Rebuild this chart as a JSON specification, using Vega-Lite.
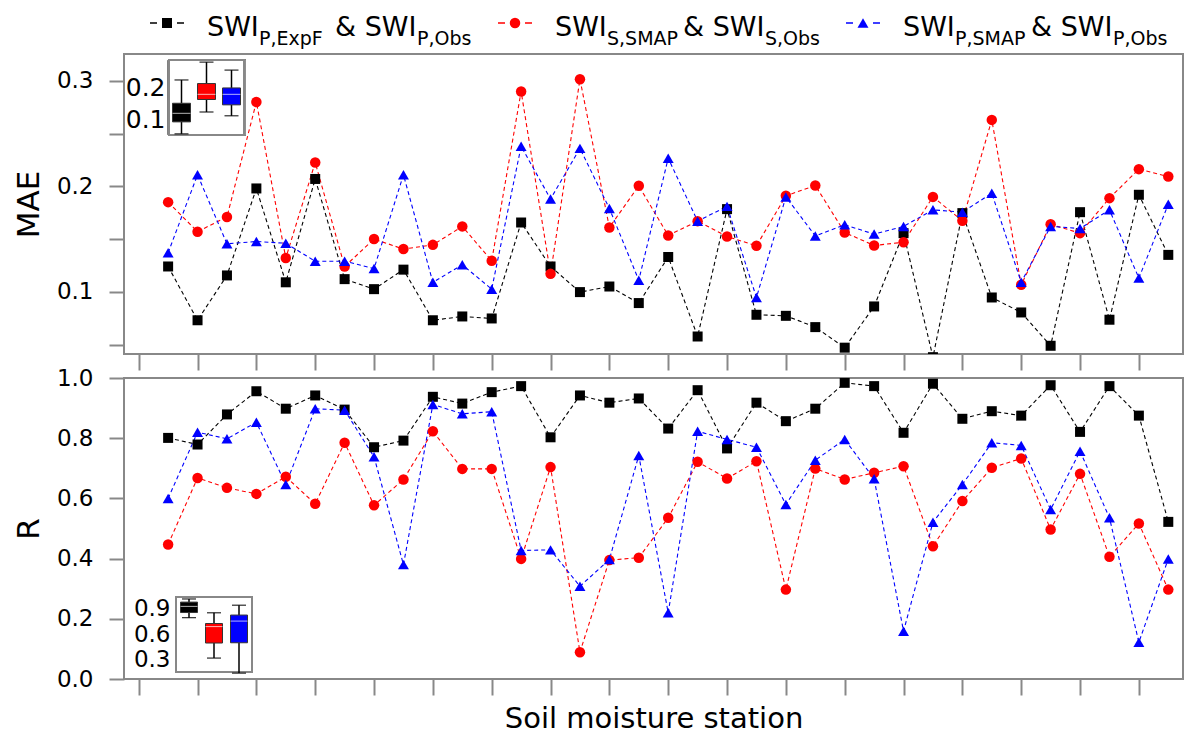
{
  "$schema": "https://vega.github.io/schema/vega-lite/v6.json",
  "padding": {"left": 12, "top": 0, "right": 5, "bottom": 5},
  "config": {
    "font": "DejaVu Sans",
    "view": {"stroke": "#888888", "strokeWidth": 2},
    "axis": {
      "labelFont": "DejaVu Sans",
      "titleFont": "DejaVu Sans",
      "labelColor": "#000000",
      "titleColor": "#000000",
      "titleFontWeight": "normal",
      "tickColor": "#888888",
      "tickWidth": 2,
      "domain": false,
      "grid": false
    }
  },
  "datasets": {
    "entries": [
      {"key": "expf", "main1": "SWI", "sub1": "P,ExpF", "main2": "& SWI", "sub2": "P,Obs"},
      {"key": "ssmap", "main1": "SWI", "sub1": "S,SMAP", "main2": "& SWI", "sub2": "S,Obs"},
      {"key": "psmap", "main1": "SWI", "sub1": "P,SMAP", "main2": "& SWI", "sub2": "P,Obs"}
    ],
    "mae": [
      {"station": 1, "expf": 0.124, "ssmap": 0.185, "psmap": 0.137},
      {"station": 2, "expf": 0.073, "ssmap": 0.157, "psmap": 0.211},
      {"station": 3, "expf": 0.1155, "ssmap": 0.171, "psmap": 0.1455},
      {"station": 4, "expf": 0.198, "ssmap": 0.280, "psmap": 0.1477},
      {"station": 5, "expf": 0.109, "ssmap": 0.132, "psmap": 0.146},
      {"station": 6, "expf": 0.207, "ssmap": 0.2226, "psmap": 0.129},
      {"station": 7, "expf": 0.112, "ssmap": 0.124, "psmap": 0.129},
      {"station": 8, "expf": 0.1025, "ssmap": 0.150, "psmap": 0.122},
      {"station": 9, "expf": 0.121, "ssmap": 0.1405, "psmap": 0.211},
      {"station": 10, "expf": 0.073, "ssmap": 0.1445, "psmap": 0.109},
      {"station": 11, "expf": 0.0766, "ssmap": 0.162, "psmap": 0.1256},
      {"station": 12, "expf": 0.0747, "ssmap": 0.1294, "psmap": 0.1025},
      {"station": 13, "expf": 0.1657, "ssmap": 0.290, "psmap": 0.238},
      {"station": 14, "expf": 0.124, "ssmap": 0.117, "psmap": 0.188},
      {"station": 15, "expf": 0.0997, "ssmap": 0.3016, "psmap": 0.236},
      {"station": 16, "expf": 0.105, "ssmap": 0.161, "psmap": 0.179},
      {"station": 17, "expf": 0.0893, "ssmap": 0.2005, "psmap": 0.111},
      {"station": 18, "expf": 0.133, "ssmap": 0.1534, "psmap": 0.2267},
      {"station": 19, "expf": 0.0576, "ssmap": 0.167, "psmap": 0.167},
      {"station": 20, "expf": 0.1784, "ssmap": 0.1524, "psmap": 0.181},
      {"station": 21, "expf": 0.0782, "ssmap": 0.1436, "psmap": 0.0946},
      {"station": 22, "expf": 0.0772, "ssmap": 0.191, "psmap": 0.190},
      {"station": 23, "expf": 0.0665, "ssmap": 0.2008, "psmap": 0.153},
      {"station": 24, "expf": 0.047, "ssmap": 0.1562, "psmap": 0.1635},
      {"station": 25, "expf": 0.0861, "ssmap": 0.1439, "psmap": 0.1547},
      {"station": 26, "expf": 0.1556, "ssmap": 0.147, "psmap": 0.162},
      {"station": 27, "expf": 0.038, "ssmap": 0.190, "psmap": 0.1777},
      {"station": 28, "expf": 0.1746, "ssmap": 0.1673, "psmap": 0.1755},
      {"station": 29, "expf": 0.0946, "ssmap": 0.263, "psmap": 0.1935},
      {"station": 30, "expf": 0.0804, "ssmap": 0.1066, "psmap": 0.109},
      {"station": 31, "expf": 0.0488, "ssmap": 0.164, "psmap": 0.162},
      {"station": 32, "expf": 0.1755, "ssmap": 0.1556, "psmap": 0.160},
      {"station": 33, "expf": 0.0735, "ssmap": 0.1888, "psmap": 0.1777},
      {"station": 34, "expf": 0.192, "ssmap": 0.2163, "psmap": 0.113},
      {"station": 35, "expf": 0.135, "ssmap": 0.2093, "psmap": 0.183}
    ],
    "r": [
      {"station": 1, "expf": 0.801, "ssmap": 0.447, "psmap": 0.600},
      {"station": 2, "expf": 0.779, "ssmap": 0.668, "psmap": 0.820},
      {"station": 3, "expf": 0.879, "ssmap": 0.635, "psmap": 0.798},
      {"station": 4, "expf": 0.956, "ssmap": 0.615, "psmap": 0.853},
      {"station": 5, "expf": 0.898, "ssmap": 0.672, "psmap": 0.646},
      {"station": 6, "expf": 0.942, "ssmap": 0.582, "psmap": 0.898},
      {"station": 7, "expf": 0.895, "ssmap": 0.785, "psmap": 0.893},
      {"station": 8, "expf": 0.770, "ssmap": 0.577, "psmap": 0.738},
      {"station": 9, "expf": 0.792, "ssmap": 0.663, "psmap": 0.380},
      {"station": 10, "expf": 0.9375, "ssmap": 0.823, "psmap": 0.912},
      {"station": 11, "expf": 0.915, "ssmap": 0.698, "psmap": 0.881},
      {"station": 12, "expf": 0.953, "ssmap": 0.698, "psmap": 0.888},
      {"station": 13, "expf": 0.973, "ssmap": 0.399, "psmap": 0.427},
      {"station": 14, "expf": 0.803, "ssmap": 0.704, "psmap": 0.429},
      {"station": 15, "expf": 0.942, "ssmap": 0.089, "psmap": 0.308},
      {"station": 16, "expf": 0.918, "ssmap": 0.395, "psmap": 0.397},
      {"station": 17, "expf": 0.932, "ssmap": 0.403, "psmap": 0.7425},
      {"station": 18, "expf": 0.832, "ssmap": 0.5355, "psmap": 0.220},
      {"station": 19, "expf": 0.9595, "ssmap": 0.7216, "psmap": 0.823},
      {"station": 20, "expf": 0.766, "ssmap": 0.666, "psmap": 0.796},
      {"station": 21, "expf": 0.918, "ssmap": 0.7236, "psmap": 0.770},
      {"station": 22, "expf": 0.8566, "ssmap": 0.297, "psmap": 0.580},
      {"station": 23, "expf": 0.898, "ssmap": 0.699, "psmap": 0.727},
      {"station": 24, "expf": 0.984, "ssmap": 0.663, "psmap": 0.796},
      {"station": 25, "expf": 0.973, "ssmap": 0.685, "psmap": 0.665},
      {"station": 26, "expf": 0.818, "ssmap": 0.707, "psmap": 0.159},
      {"station": 27, "expf": 0.981, "ssmap": 0.441, "psmap": 0.521},
      {"station": 28, "expf": 0.8645, "ssmap": 0.591, "psmap": 0.646},
      {"station": 29, "expf": 0.8897, "ssmap": 0.7017, "psmap": 0.785},
      {"station": 30, "expf": 0.875, "ssmap": 0.7326, "psmap": 0.776},
      {"station": 31, "expf": 0.976, "ssmap": 0.4967, "psmap": 0.563},
      {"station": 32, "expf": 0.821, "ssmap": 0.6816, "psmap": 0.757},
      {"station": 33, "expf": 0.973, "ssmap": 0.406, "psmap": 0.5355},
      {"station": 34, "expf": 0.875, "ssmap": 0.5166, "psmap": 0.122},
      {"station": 35, "expf": 0.522, "ssmap": 0.297, "psmap": 0.399}
    ]
  },
  "bounds": "flush",
  "spacing": 4,
  "vconcat": [
    {
      "width": 1059,
      "height": 50,
      "view": {"stroke": null},
      "data": {"name": "entries"},
      "encoding": {
        "x": {"field": "key", "type": "nominal", "scale": {"type": "point", "domain": ["expf", "ssmap", "psmap"], "range": [43, 739], "padding": 0}, "axis": null}
      },
      "layer": [
        {
          "mark": {"type": "rule", "xOffset": -17, "x2Offset": 17, "yOffset": -2, "strokeDash": [7, 20], "strokeWidth": 1.5},
          "encoding": {
            "x2": {"field": "key"},
            "color": {"field": "key", "type": "nominal", "scale": {"domain": ["expf", "ssmap", "psmap"], "range": ["#000000", "#ff0000", "#0000ff"]}, "legend": null}
          }
        },
        {
          "mark": {"type": "point", "filled": true, "opacity": 1, "yOffset": -2},
          "encoding": {
            "color": {"field": "key", "type": "nominal", "legend": null},
            "shape": {"field": "key", "type": "nominal", "scale": {"domain": ["expf", "ssmap", "psmap"], "range": ["square", "circle", "triangle-up"]}, "legend": null},
            "size": {"field": "key", "type": "nominal", "scale": {"domain": ["expf", "ssmap", "psmap"], "range": [100, 120, 140]}, "legend": null}
          }
        },
        {"mark": {"type": "text", "align": "left", "baseline": "alphabetic", "dx": 40, "dy": 11, "fontSize": 27, "color": "#000000"}, "encoding": {"text": {"field": "main1"}}},
        {"mark": {"type": "text", "align": "left", "baseline": "alphabetic", "dx": 92, "dy": 20, "fontSize": 19, "color": "#000000"}, "encoding": {"text": {"field": "sub1"}}},
        {"mark": {"type": "text", "align": "left", "baseline": "alphabetic", "dx": 168, "dy": 11, "fontSize": 27, "color": "#000000"}, "encoding": {"text": {"field": "main2"}}},
        {"mark": {"type": "text", "align": "left", "baseline": "alphabetic", "dx": 250, "dy": 20, "fontSize": 19, "color": "#000000"}, "encoding": {"text": {"field": "sub2"}}}
      ]
    },
    {
      "bounds": "flush",
      "spacing": 24,
      "vconcat": [
        {
          "width": 1059,
          "height": 300,
          "data": {"name": "mae"},
          "transform": [{"fold": ["expf", "ssmap", "psmap"], "as": ["key", "value"]}],
          "layer": [
            {
              "layer": [
                {
                  "mark": {"type": "rect", "fillOpacity": 0, "stroke": "#888888", "strokeWidth": 1.5},
                  "encoding": {
                    "x": {"datum": 1.02, "type": "quantitative"},
                    "x2": {"datum": 3.59},
                    "y": {"datum": 0.2487, "type": "quantitative"},
                    "y2": {"datum": 0.3198}
                  }
                },
                {
                  "mark": {"type": "line", "strokeDash": [4, 3], "strokeWidth": 1.1, "clip": true},
                  "encoding": {
                    "x": {
                      "field": "station", "type": "quantitative",
                      "scale": {"domain": [-0.5, 35.5], "nice": false, "zero": false},
                      "axis": {"values": [0,1,2,3,4,5,6,7,8,9,10,11,12,13,14,15,16,17,18,19,20,21,22,23,24,25,26,27,28,29,30,31,32,33,34,35], "labels": false, "tickSize": 16, "title": null}
                    },
                    "y": {
                      "field": "value", "type": "quantitative",
                      "scale": {"domain": [0.041, 0.3255], "nice": false, "zero": false},
                      "axis": {
                        "values": [0.05, 0.1, 0.15, 0.2, 0.25, 0.3],
                        "labelExpr": "round(datum.value * 100) % 10 == 0 ? format(datum.value, '.1f') : ''",
                        "tickSize": 15, "labelPadding": 16, "labelFontSize": 23,
                        "title": "MAE", "titleFontSize": 31, "titlePadding": 11
                      }
                    },
                    "color": {"field": "key", "type": "nominal", "scale": {"domain": ["expf", "ssmap", "psmap"], "range": ["#000000", "#ff0000", "#0000ff"]}, "legend": null}
                  }
                },
                {
                  "mark": {"type": "point", "filled": true, "opacity": 1, "clip": true},
                  "encoding": {
                    "x": {"field": "station", "type": "quantitative"},
                    "y": {"field": "value", "type": "quantitative"},
                    "color": {"field": "key", "type": "nominal", "legend": null},
                    "shape": {"field": "key", "type": "nominal", "scale": {"domain": ["expf", "ssmap", "psmap"], "range": ["square", "circle", "triangle-up"]}, "legend": null},
                    "size": {"field": "key", "type": "nominal", "scale": {"domain": ["expf", "ssmap", "psmap"], "range": [90, 115, 135]}, "legend": null}
                  }
                }
              ]
            },
            {
              "mark": {
                "type": "boxplot", "extent": 1.5, "size": 18, "outliers": false,
                "box": {"stroke": "#333333", "strokeWidth": 1},
                "median": {"color": "#ffffff", "strokeWidth": 2},
                "rule": {"color": "#000000", "strokeWidth": 1.5},
                "ticks": {"color": "#000000", "size": 14}
              },
              "encoding": {
                "x": {"field": "key", "type": "nominal", "scale": {"domain": ["expf", "ssmap", "psmap"], "range": [45, 120], "paddingInner": 0, "paddingOuter": 0}, "axis": null},
                "y": {
                  "field": "value", "type": "quantitative",
                  "scale": {"domain": [-0.652, 0.2884], "nice": false, "zero": false},
                  "axis": {"orient": "left", "offset": -43, "values": [0.1, 0.2], "format": ".1f", "ticks": false, "labelPadding": 2, "labelFontSize": 25, "labelBaseline": "middle", "labelOffset": 5, "title": null}
                },
                "color": {"field": "key", "type": "nominal", "legend": null}
              }
            }
          ],
          "resolve": {"scale": {"x": "independent", "y": "independent"}}
        },
        {
          "width": 1059,
          "height": 301,
          "data": {"name": "r"},
          "transform": [{"fold": ["expf", "ssmap", "psmap"], "as": ["key", "value"]}],
          "layer": [
            {
              "layer": [
                {
                  "mark": {"type": "rect", "fillOpacity": 0, "stroke": "#888888", "strokeWidth": 1.5},
                  "encoding": {
                    "x": {"datum": 1.268, "type": "quantitative"},
                    "x2": {"datum": 3.851},
                    "y": {"datum": 0.0226, "type": "quantitative"},
                    "y2": {"datum": 0.273}
                  }
                },
                {
                  "mark": {"type": "line", "strokeDash": [4, 3], "strokeWidth": 1.1, "clip": true},
                  "encoding": {
                    "x": {
                      "field": "station", "type": "quantitative",
                      "scale": {"domain": [-0.5, 35.5], "nice": false, "zero": false},
                      "axis": {"values": [0,1,2,3,4,5,6,7,8,9,10,11,12,13,14,15,16,17,18,19,20,21,22,23,24,25,26,27,28,29,30,31,32,33,34,35], "labels": false, "tickSize": 16, "title": "Soil moisture station", "titleFontSize": 29, "titlePadding": 8}
                    },
                    "y": {
                      "field": "value", "type": "quantitative",
                      "scale": {"domain": [0, 1], "nice": false, "zero": false},
                      "axis": {
                        "values": [0, 0.1, 0.2, 0.3, 0.4, 0.5, 0.6, 0.7, 0.8, 0.9, 1.0],
                        "labelExpr": "round(datum.value * 10) % 2 == 0 ? format(datum.value, '.1f') : ''",
                        "tickSize": 15, "labelPadding": 16, "labelFontSize": 23,
                        "title": "R", "titleFontSize": 31, "titlePadding": 11
                      }
                    },
                    "color": {"field": "key", "type": "nominal", "scale": {"domain": ["expf", "ssmap", "psmap"], "range": ["#000000", "#ff0000", "#0000ff"]}, "legend": null}
                  }
                },
                {
                  "mark": {"type": "point", "filled": true, "opacity": 1, "clip": true},
                  "encoding": {
                    "x": {"field": "station", "type": "quantitative"},
                    "y": {"field": "value", "type": "quantitative"},
                    "color": {"field": "key", "type": "nominal", "legend": null},
                    "shape": {"field": "key", "type": "nominal", "scale": {"domain": ["expf", "ssmap", "psmap"], "range": ["square", "circle", "triangle-up"]}, "legend": null},
                    "size": {"field": "key", "type": "nominal", "scale": {"domain": ["expf", "ssmap", "psmap"], "range": [90, 115, 135]}, "legend": null}
                  }
                }
              ]
            },
            {
              "mark": {
                "type": "boxplot", "extent": 1.5, "size": 17, "outliers": false,
                "box": {"stroke": "#333333", "strokeWidth": 1},
                "median": {"color": "#ffffff", "strokeWidth": 2},
                "rule": {"color": "#000000", "strokeWidth": 1.5},
                "ticks": {"color": "#000000", "size": 14}
              },
              "encoding": {
                "x": {"field": "key", "type": "nominal", "scale": {"domain": ["expf", "ssmap", "psmap"], "range": [52.5, 127.5], "paddingInner": 0, "paddingOuter": 0}, "axis": null},
                "y": {
                  "field": "value", "type": "quantitative",
                  "scale": {"domain": [0.0535, 3.5535], "nice": false, "zero": false},
                  "axis": {"orient": "left", "offset": -48, "values": [0.3, 0.6, 0.9], "format": ".1f", "ticks": false, "labelPadding": 2, "labelFontSize": 23, "labelBaseline": "middle", "labelOffset": 2, "title": null}
                },
                "color": {"field": "key", "type": "nominal", "legend": null}
              }
            }
          ],
          "resolve": {"scale": {"x": "independent", "y": "independent"}}
        }
      ]
    }
  ]
}
